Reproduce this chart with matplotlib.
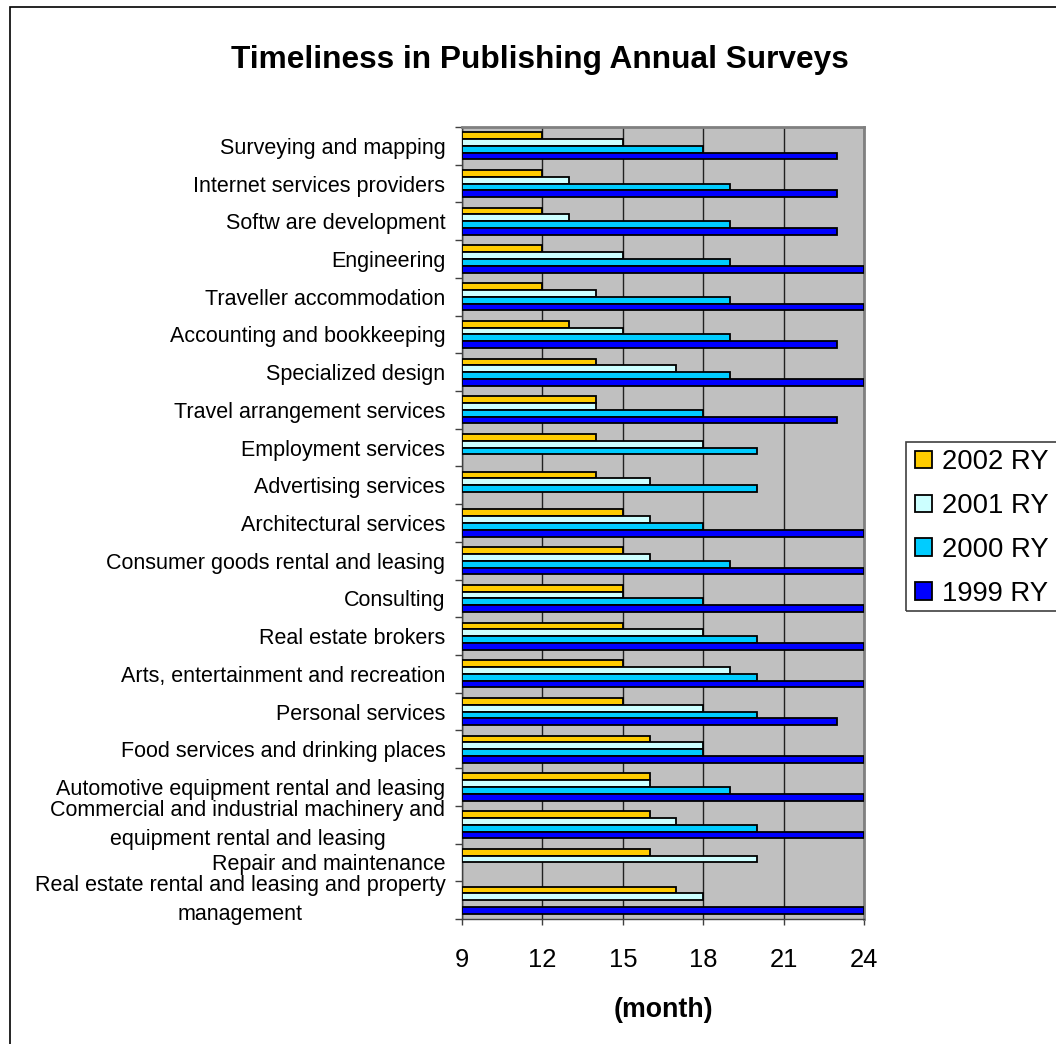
import numpy as np
import matplotlib
matplotlib.use('Agg')
import matplotlib.pyplot as plt
from matplotlib.patches import Rectangle

plt.rcParams['font.family'] = ['Liberation Sans', 'DejaVu Sans']

categories = [
    'Surveying and mapping',
    'Internet services providers',
    'Softw are development',
    'Engineering',
    'Traveller accommodation',
    'Accounting and bookkeeping',
    'Specialized design',
    'Travel arrangement services',
    'Employment services',
    'Advertising services',
    'Architectural services',
    'Consumer goods rental and leasing',
    'Consulting',
    'Real estate brokers',
    'Arts, entertainment and recreation',
    'Personal services',
    'Food services and drinking places',
    'Automotive equipment rental and leasing',
    'Commercial and industrial machinery and\nequipment rental and leasing',
    'Repair and maintenance',
    'Real estate rental and leasing and property\nmanagement',
]
nan = np.nan
ry2002 = [12, 12, 12, 12, 12, 13, 14, 14, 14, 14, 15, 15, 15, 15, 15, 15, 16, 16, 16, 16, 17]
ry2001 = [15, 13, 13, 15, 14, 15, 17, 14, 18, 16, 16, 16, 15, 18, 19, 18, 18, 16, 17, 20, 18]
ry2000 = [18, 19, 19, 19, 19, 19, 19, 18, 20, 20, 18, 19, 18, 20, 20, 20, 18, 19, 20, nan, nan]
ry1999 = [23, 23, 23, 24, 24, 23, 24, 23, nan, nan, 24, 24, 24, 24, 24, 23, 24, 24, 24, nan, 24]
series = [('2002 RY', ry2002, '#FFCC00'),
          ('2001 RY', ry2001, '#CCFFFF'),
          ('2000 RY', ry2000, '#00CCFF'),
          ('1999 RY', ry1999, '#0000FF')]
xticks = [9, 12, 15, 18, 21, 24]

W, H = 1056, 1044
fig = plt.figure(figsize=(W / 100, H / 100), dpi=100)
fig.patch.set_facecolor('white')
ax = fig.add_axes([462 / W, 1 - 919 / H, (864 - 462) / W, (919 - 127) / H])
ax.set_facecolor('#C0C0C0')

y = np.arange(len(categories))
h = 0.18
offsets = [-1.5 * h, -0.5 * h, 0.5 * h, 1.5 * h]
for (name, vals, col), off in zip(series, offsets):
    v = np.array(vals, dtype=float)
    ax.barh(y + off, v - xticks[0], left=xticks[0], height=h, color=col,
            edgecolor='black', linewidth=1.3, label=name, zorder=3)

ax.set_xlim(9, 24)
ax.set_ylim(len(categories) - 0.5, -0.5)
ax.set_xticks(xticks)
ax.set_xticklabels([str(t) for t in xticks], fontsize=18.4)
ax.tick_params(axis='x', length=4, width=1, pad=17, color='#404040')
ax.set_yticks(y)
ax.set_yticklabels(categories, fontsize=15.5, multialignment='center',
                   linespacing=1.5)
for lab in ax.get_yticklabels():
    if '\n' in lab.get_text():
        lab.set_va('center')
ax.tick_params(axis='y', which='major', length=0, pad=12)
ax.set_yticks(np.arange(len(categories) + 1) - 0.5, minor=True)
ax.tick_params(axis='y', which='minor', length=5, width=1, color='#404040')
ax.xaxis.grid(True, color='#202020', linewidth=1, zorder=1)
ax.set_axisbelow(True)
for s in ax.spines.values():
    s.set_color('#808080')
    s.set_linewidth(2)
ax.spines['bottom'].set_color('#404040')
ax.spines['bottom'].set_linewidth(1)
ax.spines['left'].set_color('#404040')
ax.spines['left'].set_linewidth(1)
ax.set_xlabel('(month)', fontsize=19.3, fontweight='bold', labelpad=18)

fig.text(540 / W, 1 - 60 / H, 'Timeliness in Publishing Annual Surveys',
         fontsize=22.8, fontweight='bold', ha='center', va='center')

# legend content without frame, box drawn separately (runs off the right edge)
leg = fig.legend(loc='lower left', bbox_to_anchor=(911 / W, 1 - 611 / H),
                 borderaxespad=0, fontsize=19.8, frameon=False,
                 handlelength=0.62, handleheight=0.62, handletextpad=0.36,
                 labelspacing=0.65, borderpad=0.15)
for p in leg.get_patches():
    p.set_linewidth(1.3)
fig.patches.append(Rectangle((906 / W, 1 - 611 / H), 200 / W, (611 - 442) / H,
                             transform=fig.transFigure, fill=False,
                             edgecolor='#404040', linewidth=1.2))

fig.patches.append(Rectangle((10 / W, -0.05), 1.2, 1 - 7 / H + 0.05,
                             transform=fig.transFigure, fill=False,
                             edgecolor='black', linewidth=1.2))

fig.savefig('out.png', dpi=100)
